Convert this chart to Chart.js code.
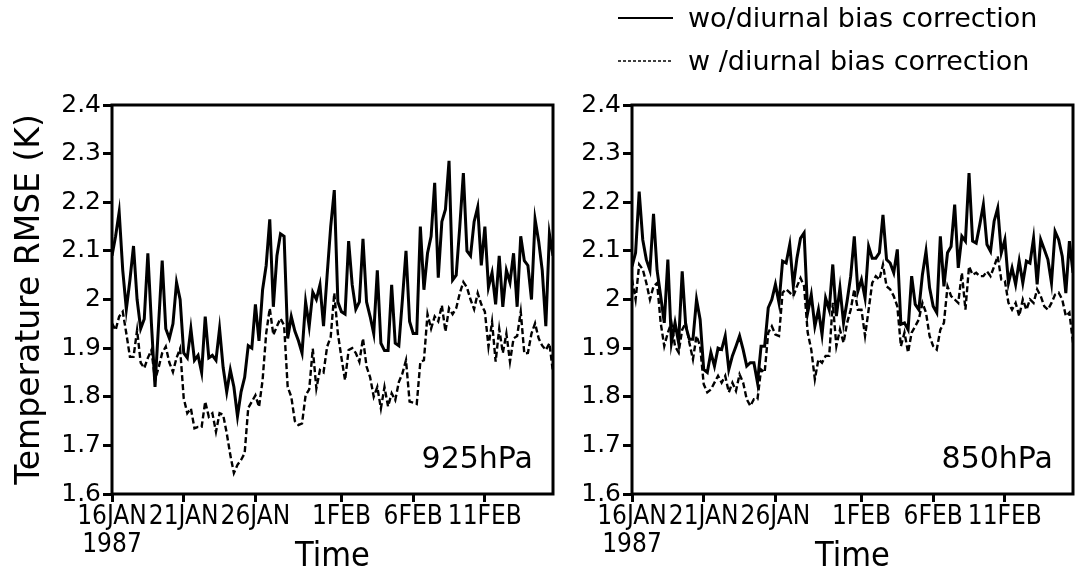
<!DOCTYPE html>
<html>
<head>
<meta charset="utf-8">
<script src="https://cdn.jsdelivr.net/npm/chart.js@4.4.1/dist/chart.umd.min.js"></script>
<style>
  html, body { margin: 0; padding: 0; background: #fff; }
  #wrap { position: relative; width: 1076px; height: 578px; }
  canvas { position: absolute; top: 0; }
  #left { left: 0; }
  #right { left: 560px; }
</style>
</head>
<body>
<div id="wrap">
  <canvas id="left" width="560" height="578"></canvas>
  <canvas id="right" width="516" height="578"></canvas>
</div>
<script>
// 6-hourly RMSE, 16 JAN 00Z .. 15 FEB 18Z 1987
const wo925 = [
  2.09, 2.13, 2.18, 2.06, 1.98, 2.04, 2.11, 2.0,
  1.94, 1.96, 2.095, 1.95, 1.82, 1.95, 2.08, 1.94,
  1.92, 1.95, 2.035, 2.0, 1.89, 1.88, 1.94, 1.875,
  1.885, 1.85, 1.965, 1.88, 1.885, 1.875, 1.94, 1.86,
  1.81, 1.855, 1.82, 1.76, 1.81, 1.84, 1.905, 1.9,
  1.99, 1.915, 2.02, 2.07, 2.165, 1.985, 2.09, 2.135,
  2.13, 1.92, 1.965, 1.935, 1.915, 1.89, 1.995, 1.945,
  2.015, 2.0, 2.03, 1.945, 2.05, 2.15, 2.225, 1.995,
  1.975, 1.97, 2.12, 2.03, 1.98, 1.995, 2.125, 1.995,
  1.965, 1.93, 2.06, 1.91, 1.895, 1.895, 2.03, 1.91,
  1.905, 2.0, 2.1, 1.955, 1.93, 1.93, 2.15, 2.02,
  2.095, 2.13, 2.24, 2.045, 2.16, 2.185, 2.285, 2.04,
  2.05, 2.15, 2.26, 2.1, 2.09, 2.16, 2.19, 2.07,
  2.15, 2.025, 2.055, 1.99, 2.09, 1.985, 2.06, 2.035,
  2.095, 1.985, 2.13, 2.08, 2.07, 2.0, 2.165, 2.12,
  2.06, 1.945, 2.135, 2.09
];
const w925 = [
  1.951, 1.937, 1.965, 1.975, 1.93, 1.882, 1.882, 1.937,
  1.87, 1.859, 1.88, 1.896, 1.834, 1.86, 1.89, 1.903,
  1.87, 1.851, 1.88, 1.899, 1.797, 1.766, 1.776, 1.735,
  1.738, 1.738, 1.79, 1.759, 1.766, 1.728, 1.766, 1.763,
  1.725, 1.68, 1.643, 1.66, 1.67, 1.684, 1.777, 1.79,
  1.803, 1.779, 1.834, 1.93, 1.982, 1.927, 1.945, 1.961,
  1.947, 1.82, 1.8, 1.75, 1.742, 1.745, 1.803, 1.815,
  1.899, 1.817, 1.855, 1.85, 1.903, 1.923, 2.013, 1.93,
  1.88, 1.834, 1.896, 1.9, 1.89, 1.872, 1.92, 1.862,
  1.84, 1.8, 1.82, 1.776, 1.82, 1.78, 1.807, 1.793,
  1.83, 1.848, 1.875, 1.79, 1.788, 1.785, 1.872, 1.875,
  1.97, 1.94, 1.965, 1.955, 1.988, 1.934, 1.982, 1.97,
  1.982, 2.013, 2.036, 2.025, 2.0, 1.98, 2.013, 1.99,
  1.975, 1.903, 1.954, 1.872, 1.94, 1.89, 1.93, 1.872,
  1.92, 1.925, 1.975, 1.889, 1.89, 1.93, 1.951, 1.92,
  1.905, 1.896, 1.91, 1.85
];
const wo850 = [
  2.068, 2.096, 2.222, 2.123, 2.082, 2.06, 2.176, 2.06,
  2.007, 1.952, 2.082, 1.911, 1.952, 1.911, 2.058, 1.945,
  1.918, 1.918, 2.0, 1.959, 1.856, 1.85, 1.891, 1.863,
  1.9, 1.897, 1.925, 1.856, 1.884, 1.904, 1.925, 1.897,
  1.863, 1.87, 1.87, 1.829, 1.904, 1.904, 1.983, 2.0,
  2.031, 1.993, 2.079, 2.075, 2.113, 2.027, 2.085, 2.126,
  2.137, 1.973, 2.01, 1.945, 1.979, 1.928, 2.003, 1.979,
  2.072, 1.966, 2.024, 1.952, 1.997, 2.048, 2.13, 2.017,
  2.041, 2.003, 2.109, 2.085, 2.085, 2.096, 2.174, 2.082,
  2.075, 2.055, 2.103, 1.949, 1.952, 1.938, 2.048, 1.99,
  1.979, 2.051, 2.099, 2.024, 1.986, 1.973, 2.13, 2.027,
  2.096, 2.109, 2.195, 2.065, 2.13, 2.12, 2.26, 2.12,
  2.116, 2.154, 2.195, 2.113, 2.099, 2.161, 2.188, 2.096,
  2.123, 2.034, 2.065, 2.031, 2.079, 2.034, 2.079, 2.075,
  2.126, 2.031, 2.123, 2.103, 2.082, 2.034, 2.14, 2.123,
  2.089, 2.013, 2.12, 2.055
];
const w850 = [
  2.041, 2.0, 2.072, 2.062, 2.034, 2.0, 2.027, 2.034,
  1.952, 1.904, 1.932, 1.952, 1.904, 1.891, 1.938, 1.952,
  1.911, 1.877, 1.925, 1.904, 1.826, 1.809, 1.815, 1.829,
  1.843, 1.829, 1.843, 1.809, 1.829, 1.812, 1.846, 1.829,
  1.795, 1.781, 1.795, 1.795, 1.856, 1.85, 1.932, 1.945,
  1.928, 1.925, 2.014, 2.021, 2.014, 2.007, 2.027, 2.044,
  2.027, 1.932, 1.897, 1.836, 1.877, 1.87, 1.884, 1.884,
  1.993, 1.904, 1.938, 1.911, 1.952, 1.979, 2.021, 1.979,
  1.979, 1.925, 1.979, 2.034, 2.048, 2.041, 2.072, 2.027,
  2.021, 2.007, 1.986, 1.904, 1.932, 1.891, 1.932, 1.945,
  1.959, 1.993, 1.973, 1.925, 1.904, 1.897, 1.938, 1.952,
  2.027, 2.007, 2.0, 1.993, 2.055, 1.979, 2.068, 2.051,
  2.055, 2.048, 2.048, 2.058, 2.048, 2.068, 2.089, 2.041,
  2.038, 1.993, 1.979, 1.993, 1.966, 2.0, 1.979, 2.0,
  1.993, 2.021, 2.007, 1.986, 1.979, 1.993, 2.01, 2.014,
  2.0, 1.966, 1.973, 1.911
];

// time axis in days after 16 JAN 1987 00Z (one sample every 6 h)
const dayOffsets = wo925.map((_, i) => i / 4);
const tickDays = [0, 5, 10, 16, 21, 26];
const tickLabels = [['16JAN', '1987'], '21JAN', '26JAN', '1FEB', '6FEB', '11FEB'];
const yTicks = [1.6, 1.7, 1.8, 1.9, 2.0, 2.1, 2.2, 2.3, 2.4];
const yTickLabels = ['1.6', '1.7', '1.8', '1.9', '2', '2.1', '2.2', '2.3', '2.4'];
const seriesNames = ['wo/diurnal bias correction', 'w /diurnal bias correction'];

const panelDecor = {
  id: 'panelDecor',
  afterDraw(chart, args, opts) {
    const { ctx, chartArea: a } = chart;
    ctx.save();
    ctx.strokeStyle = '#000';
    ctx.fillStyle = '#000';
    ctx.lineWidth = 3;
    ctx.strokeRect(a.left, a.top, a.right - a.left, a.bottom - a.top);

    ctx.font = '30px "DejaVu Sans"';
    ctx.textAlign = 'right';
    ctx.textBaseline = 'alphabetic';
    ctx.fillText(opts.level, a.right - 20, 468);

    if (opts.legend) {
      ctx.textAlign = 'left';
      ctx.font = '27px "DejaVu Sans"';
      ctx.lineWidth = 2;
      ctx.beginPath();
      ctx.moveTo(58, 18);
      ctx.lineTo(113, 18);
      ctx.stroke();
      ctx.fillText(seriesNames[0], 128, 27);

      ctx.lineWidth = 1.5;
      ctx.setLineDash([3, 2]);
      ctx.beginPath();
      ctx.moveTo(58, 61);
      ctx.lineTo(113, 61);
      ctx.stroke();
      ctx.setLineDash([]);
      ctx.fillText(seriesNames[1], 128, 70);
    }
    ctx.restore();
  }
};

function makePanel(id, level, solid, dashed, axisWidth, padRight, showYTitle, showLegend) {
  const ctx = document.getElementById(id).getContext('2d');
  return new Chart(ctx, {
    type: 'line',
    data: {
      datasets: [
        {
          label: seriesNames[0],
          data: solid.map((v, i) => ({ x: dayOffsets[i], y: v })),
          borderColor: '#000',
          borderWidth: 3,
          pointRadius: 0,
          tension: 0
        },
        {
          label: seriesNames[1],
          data: dashed.map((v, i) => ({ x: dayOffsets[i], y: v })),
          borderColor: '#000',
          borderWidth: 2.4,
          borderDash: [6, 3],
          pointRadius: 0,
          tension: 0
        }
      ]
    },
    options: {
      responsive: false,
      animation: false,
      layout: { padding: { top: 105, right: padRight, left: 0, bottom: 0 } },
      plugins: {
        legend: { display: false },
        tooltip: { enabled: false },
        panelDecor: { level: level, legend: showLegend }
      },
      scales: {
        x: {
          type: 'linear',
          min: 0,
          max: 30.75,
          afterBuildTicks: s => { s.ticks = tickDays.map(v => ({ value: v })); },
          afterFit: s => { s.height = 84; },
          ticks: {
            autoSkip: false,
            maxRotation: 0,
            padding: 2,
            color: '#000',
            font: { family: "'DejaVu Sans Condensed', 'Liberation Sans Narrow', 'DejaVu Sans'", size: 26, lineHeight: 1.05 },
            callback: (v, i) => tickLabels[i]
          },
          grid: { drawOnChartArea: false, tickLength: 8, color: '#000', lineWidth: 3 },
          border: { display: false },
          title: {
            display: true,
            text: 'Time',
            color: '#000',
            font: { family: "'Liberation Sans Narrow', 'DejaVu Sans Condensed', 'DejaVu Sans'", size: 34, lineHeight: 1.1 },
            padding: { top: 0, bottom: 2 }
          }
        },
        y: {
          min: 1.6,
          max: 2.4,
          afterBuildTicks: s => { s.ticks = yTicks.map(v => ({ value: v })); },
          afterFit: s => { s.width = axisWidth; },
          ticks: {
            padding: 2,
            color: '#000',
            font: { family: 'DejaVu Sans', size: 25 },
            callback: (v, i) => yTickLabels[i]
          },
          grid: { drawOnChartArea: false, tickLength: 9, color: '#000', lineWidth: 3 },
          border: { display: false },
          title: {
            display: showYTitle,
            text: 'Temperature RMSE (K)',
            color: '#000',
            font: { family: 'DejaVu Sans', size: 33 },
            padding: { top: 11, bottom: 0 }
          }
        }
      }
    },
    plugins: [panelDecor]
  });
}

makePanel('left', '925hPa', wo925, w925, 112, 7, true, false);
makePanel('right', '850hPa', wo850, w850, 72, 3, false, true);
</script>
</body>
</html>
